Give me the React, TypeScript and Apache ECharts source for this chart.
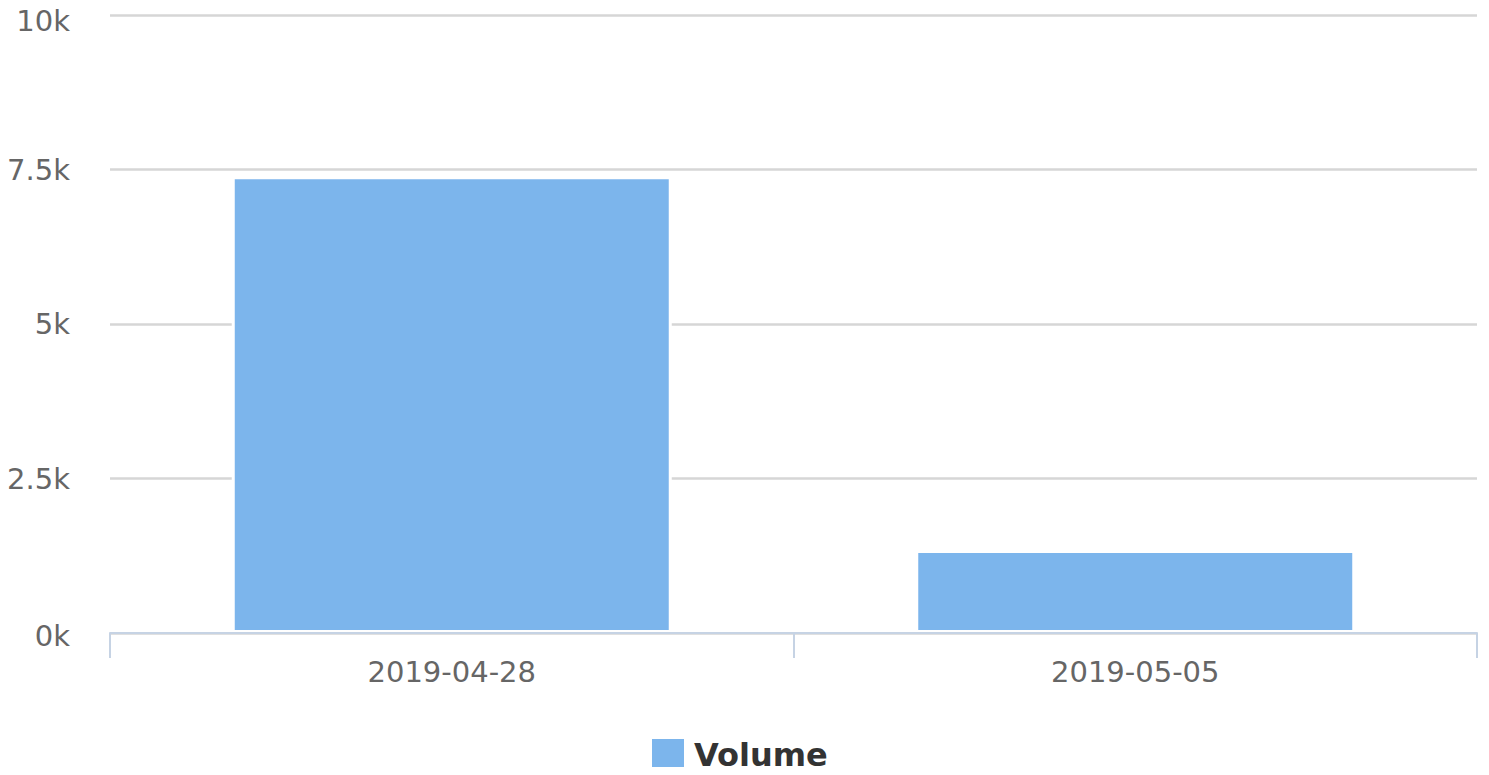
import React, { useEffect, useRef } from "react";
import * as echarts from "echarts";

const categories = ["2019-04-28", "2019-05-05"];
const volume = [7390, 1345];
const seriesName = "Volume";
const yMax = 10000;
const yStep = 2500;

export default function App() {
  const ref = useRef<HTMLDivElement>(null);
  useEffect(() => {
    if (!ref.current) return;
    const chart = echarts.init(ref.current, undefined, { renderer: "svg" });
    const font = "DejaVu Sans";
    chart.setOption({
      animation: false,
      textStyle: { fontFamily: font },
      grid: { left: 110, right: 12, top: 15, bottom: 142, containLabel: false },
      legend: {
        data: [{ name: seriesName, icon: "rect", itemStyle: { borderWidth: 0 } }],
        top: 739,
        left: 652,
        padding: 0,
        itemWidth: 32,
        itemHeight: 32,
        itemStyle: { borderWidth: 0 },
        textStyle: { fontFamily: font, fontSize: 32, fontWeight: "bold", color: "#333333", padding: [0, 0, 0, 5] },
      },
      xAxis: {
        type: "category",
        data: categories,
        z: 10,
        axisLine: { lineStyle: { color: "#c6d3e4", width: 2 } },
        axisTick: { show: true, length: 25, lineStyle: { color: "#c6d3e4", width: 2 } },
        axisLabel: { fontFamily: font, fontSize: 29, color: "#666666", margin: 24 },
      },
      yAxis: {
        type: "value",
        min: 0,
        max: yMax,
        interval: yStep,
        axisLine: { show: false },
        axisTick: { show: false },
        splitLine: { lineStyle: { color: "#d6d6d6", width: 2.5 } },
        axisLabel: {
          fontFamily: font,
          fontSize: 29,
          color: "#666666",
          margin: 40,
          formatter: (v: number) => {
            const s = v / 1000 + "k";
            if (v === yMax) return "{t|" + s + "}";
            if (v === 0) return "{b|" + s + "}";
            return s;
          },
          rich: {
            t: { fontFamily: font, fontSize: 29, color: "#666666", padding: [12, 0, 0, 0] },
            b: { fontFamily: font, fontSize: 29, color: "#666666", padding: [6, 0, 0, 0] },
          },
        },
      },
      series: [
        {
          name: seriesName,
          type: "bar",
          data: volume,
          barWidth: 440,
          itemStyle: { color: "#7cb5ec", borderColor: "#ffffff", borderWidth: 3 },
        },
      ],
    });
    return () => chart.dispose();
  }, []);
  return <div ref={ref} style={{ width: 1489, height: 775, margin: -8 }} />;
}
